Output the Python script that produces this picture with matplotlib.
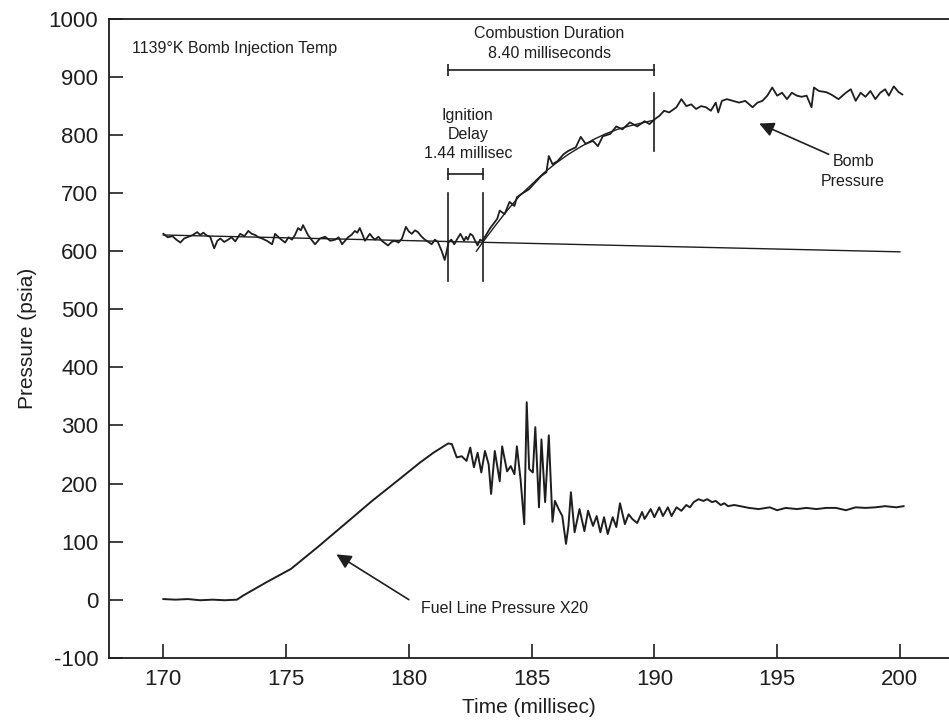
import matplotlib.pyplot as plt

# bomb pressure trace (psia), before ignition
bomb_pre_t = [170.0, 170.18, 170.37, 170.53, 170.69, 170.85, 171.02, 171.2, 171.38, 171.5,
              171.63, 171.77, 171.91, 172.07, 172.2, 172.32, 172.48, 172.64, 172.78, 172.93,
              173.13, 173.3, 173.46, 173.6, 173.74, 173.88, 174.02, 174.22, 174.43, 174.55,
              174.75, 174.96, 175.1, 175.24, 175.36, 175.49, 175.6, 175.69, 175.89, 176.03,
              176.18, 176.38, 176.59, 176.8, 177.0, 177.14, 177.28, 177.4, 177.52, 177.66,
              177.8, 177.9, 178.0, 178.1, 178.21, 178.31, 178.41, 178.52, 178.62, 178.76,
              178.9, 179.02, 179.15, 179.3, 179.43, 179.58, 179.72, 179.88, 180.0, 180.12,
              180.25, 180.37, 180.5, 180.65, 180.8, 180.93, 181.06, 181.18, 181.34, 181.46,
              181.54, 181.62, 181.73, 181.85, 181.98, 182.1, 182.25, 182.33, 182.4, 182.5,
              182.6, 182.7, 182.8, 182.9, 183.0]
bomb_pre_p = [630, 624, 626, 620, 615, 622, 625, 628, 633, 628,
              632, 627, 625, 605, 618, 622, 616, 620, 624, 617,
              630, 626, 635, 630, 628, 624, 622, 618, 612, 630,
              622, 615, 624, 620, 628, 640, 636, 645, 628, 620,
              612, 622, 625, 618, 620, 624, 612, 618, 624, 628,
              635, 632, 640, 630, 618, 624, 630, 624, 620, 625,
              618, 614, 610, 616, 618, 615, 622, 642, 634, 630,
              636, 633, 626, 620, 616, 612, 620, 616, 600, 585,
              600, 616, 620, 612, 622, 630, 618, 625, 620, 630,
              627, 618, 610, 620, 618]

# bomb pressure during and after combustion
bomb_post_t = [183.3, 183.6, 183.7, 183.9, 184.1, 184.3, 184.4, 184.6, 184.9, 185.2,
               185.4, 185.6, 185.7, 185.85, 186.05, 186.3, 186.5, 186.8, 187.0, 187.2,
               187.5, 187.7, 187.9, 188.2, 188.45, 188.7, 189.0, 189.3, 189.6, 189.8,
               190.0, 190.2, 190.4, 190.6, 190.9, 191.1, 191.3, 191.5, 191.7, 191.9,
               192.1, 192.3, 192.5, 192.6, 192.75, 192.95, 193.2, 193.45, 193.7, 194.0,
               194.2, 194.4, 194.6, 194.8, 195.0, 195.2, 195.4, 195.6, 195.8, 196.0,
               196.2, 196.4, 196.5, 196.7, 197.0, 197.2, 197.5, 197.8, 198.0, 198.2,
               198.4, 198.6, 198.8, 199.0, 199.2, 199.4, 199.55, 199.75, 199.95, 200.1]
bomb_post_p = [639, 656, 670, 664, 685, 678, 693, 699, 707, 721,
               730, 736, 764, 750, 755, 767, 773, 779, 797, 785,
               790, 781, 798, 802, 815, 810, 822, 815, 824, 819,
               827, 833, 842, 839, 848, 862, 850, 853, 845, 850,
               848, 842, 856, 839, 859, 862, 859, 856, 859, 848,
               856, 859, 868, 882, 868, 873, 862, 873, 868, 866,
               868, 848, 882, 876, 874, 870, 862, 873, 879, 859,
               873, 866, 876, 862, 873, 879, 868, 884, 874, 870]

# smooth fit through the combustion rise
fit_t = [182.75, 183.0, 183.5, 184.0, 184.5, 185.0, 185.5, 186.0,
         186.5, 187.0, 187.5, 188.0, 188.5, 189.0, 189.5, 190.0]
fit_p = [600, 615, 643, 670, 695, 715, 735, 752,
         767, 780, 792, 802, 810, 816, 821, 826]

# pre-combustion baseline
base_t = [170.0, 200.0]
base_p = [628, 599]

# fuel line pressure x20
fuel_t = [170.0, 170.5, 171.0, 171.5, 172.0, 172.5, 173.0, 173.25, 174.2, 175.2,
          176.3, 177.5, 178.5, 179.6, 180.45, 181.0, 181.6, 181.75, 181.95, 182.15,
          182.35, 182.5, 182.65, 182.8, 182.95, 183.1, 183.25, 183.35, 183.5, 183.7,
          183.8, 184.0, 184.15, 184.3, 184.4, 184.55, 184.7, 184.8, 184.9, 185.05,
          185.15, 185.3, 185.4, 185.55, 185.7, 185.85, 185.95, 186.1, 186.25, 186.4,
          186.5, 186.6, 186.75, 186.95, 187.15, 187.3, 187.5, 187.65, 187.8, 187.95,
          188.1, 188.3, 188.45, 188.6, 188.8, 188.95, 189.1, 189.3, 189.5, 189.6,
          189.85, 190.0, 190.2, 190.35, 190.55, 190.7, 190.9, 191.1, 191.3, 191.45,
          191.6, 191.8, 192.0, 192.15, 192.35, 192.5, 192.7, 192.85, 193.0, 193.25,
          193.5, 193.85, 194.25, 194.7, 195.0, 195.35, 195.8, 196.2, 196.6, 197.0,
          197.4, 197.8, 198.2, 198.6, 199.0, 199.4, 199.85, 200.15]
fuel_p = [1, 0, 1, -1, 0, -1, 0, 7, 30, 53,
          91, 134, 170, 207, 236, 253, 269, 268, 245, 247,
          239, 262, 228, 253, 219, 256, 233, 182, 256, 204,
          264, 221, 230, 216, 264, 207, 130, 340, 225, 219,
          297, 159, 276, 168, 283, 134, 170, 156, 144, 96,
          127, 185, 116, 156, 118, 153, 127, 144, 116, 142,
          113, 142, 125, 166, 130, 147, 139, 132, 151, 139,
          156, 142, 159, 144, 159, 144, 159, 153, 163, 159,
          168, 173, 170, 173, 168, 170, 163, 166, 161, 163,
          161, 158, 156, 159, 154, 158, 156, 158, 156, 158,
          158, 154, 159, 158, 159, 161, 159, 161]

ignition_start = 181.6
ignition_end = 183.04
combustion_end = 190.0

x_ticks = [170, 175, 180, 185, 190, 195, 200]
y_ticks = [-100, 0, 100, 200, 300, 400, 500, 600, 700, 800, 900, 1000]

plt.rcParams['font.family'] = ['Liberation Sans', 'DejaVu Sans']
plt.rcParams['axes.unicode_minus'] = False
ink = '#1e1e1e'

fig = plt.figure(figsize=(9.49, 7.25), dpi=100)
ax = fig.add_axes([0.1152, 0.0928, 0.8848, 0.881])

ax.plot(base_t, base_p, color=ink, lw=1.0)
ax.plot(fit_t, fit_p, color=ink, lw=1.0)
ax.plot(bomb_pre_t + bomb_post_t, bomb_pre_p + bomb_post_p, color=ink, lw=1.3)
ax.plot(fuel_t, fuel_p, color=ink, lw=1.4)

# event markers
ax.plot([ignition_start, ignition_start], [548, 700], color=ink, lw=1.2)
ax.plot([ignition_end, ignition_end], [548, 700], color=ink, lw=1.2)
ax.plot([combustion_end, combustion_end], [772, 872], color=ink, lw=1.2)
ax.plot([ignition_start, ignition_end], [733, 733], color=ink, lw=1.2,
        marker='|', markersize=9, markeredgewidth=1.2)
ax.plot([ignition_start, combustion_end], [913, 913], color=ink, lw=1.2,
        marker='|', markersize=9, markeredgewidth=1.2)

ax.text(168.74, 949, '1139°K Bomb Injection Temp', fontsize=11.5, color=ink,
        ha='left', va='center')
ax.text(185.73, 958, 'Combustion Duration\n8.40 milliseconds', fontsize=11.5,
        color=ink, ha='center', va='center', linespacing=1.45)
ax.text(182.4, 801, 'Ignition\nDelay\n1.44 millisec', fontsize=11.5, color=ink,
        ha='center', va='center', linespacing=1.35)
ax.text(198.1, 737, 'Bomb\nPressure', fontsize=11.5, color=ink,
        ha='center', va='center', linespacing=1.4)
ax.annotate('', xy=(194.27, 820), xytext=(197.1, 767),
            arrowprops=dict(arrowstyle='-|>', color=ink, lw=1.2, mutation_scale=22,
                            shrinkA=0, shrinkB=0))
ax.text(180.5, -16, 'Fuel Line Pressure X20', fontsize=11.5, color=ink,
        ha='left', va='center')
ax.annotate('', xy=(177.05, 78), xytext=(180.0, 0),
            arrowprops=dict(arrowstyle='-|>', color=ink, lw=1.2, mutation_scale=22,
                            shrinkA=0, shrinkB=0))

ax.set_xlim(167.8, 202.0)
ax.set_ylim(-100, 1000)
ax.set_xticks(x_ticks)
ax.set_yticks(y_ticks)
ax.tick_params(direction='in', length=10, width=1.2, labelsize=16,
               colors=ink, pad=8)
ax.spines['right'].set_visible(False)
for s in ['left', 'bottom', 'top']:
    ax.spines[s].set_linewidth(1.3)
    ax.spines[s].set_color(ink)

ax.set_xlabel('Time (millisec)', fontsize=15, color=ink, labelpad=6)
ax.set_ylabel('Pressure (psia)', fontsize=15, color=ink, labelpad=8)

fig.savefig('out.png', dpi=100)
